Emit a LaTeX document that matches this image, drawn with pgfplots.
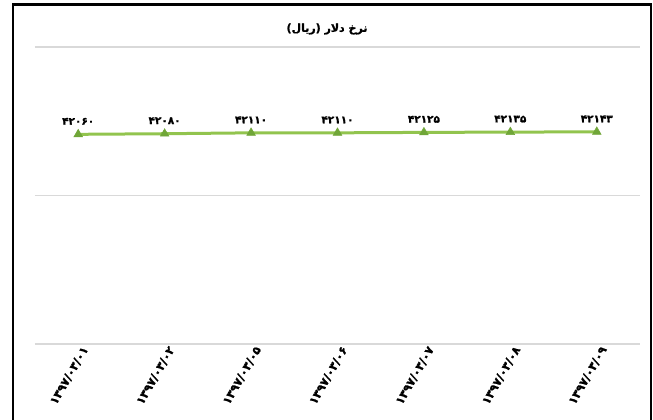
\documentclass[border=0pt]{standalone}
\usepackage{fontspec}
\setmainfont{DejaVu Sans}
\newfontfamily\arabicfont[Script=Arabic]{DejaVu Sans}
\newfontfamily\heavyfont[Script=Arabic, FakeBold=1.2]{DejaVu Sans Bold}
\TeXXeTstate=1
\usepackage{pgfplots}
\pgfplotsset{compat=1.18}
\definecolor{lineGreen}{RGB}{146,196,78}
\definecolor{markGreen}{RGB}{112,166,56}
\definecolor{gridGray}{RGB}{217,217,217}
\begin{document}
\begin{tikzpicture}
  \useasboundingbox (0pt,0pt) rectangle (653pt,-420pt);
  % outer frame
  \draw[line width=2.2pt] (13pt,-425pt) -- (13pt,-4.5pt) -- (651pt,-4.5pt) -- (651pt,-425pt);
  \node[font=\heavyfont\fontsize{11}{13}\selectfont] at (327pt,-29pt) {\beginR نرخ دلار (ریال)\endR};
  \begin{axis}[
      at={(35pt,-344pt)}, anchor=south west,
      scale only axis,
      width=605pt, height=297pt,
      xmin=-0.5, xmax=6.5,
      ymin=35000, ymax=45000,
      scaled y ticks=false,
      xtick={0,...,6},
      xticklabels={\beginL۱۳۹۷/۰۳/۰۱\endL,\beginL۱۳۹۷/۰۳/۰۲\endL,\beginL۱۳۹۷/۰۳/۰۵\endL,\beginL۱۳۹۷/۰۳/۰۶\endL,\beginL۱۳۹۷/۰۳/۰۷\endL,\beginL۱۳۹۷/۰۳/۰۸\endL,\beginL۱۳۹۷/۰۳/۰۹\endL},
      ytick={35000,40000,45000},
      yticklabels={},
      ymajorgrids,
      grid style={gridGray, line width=1.4pt},
      axis line style={draw=none},
      major tick length=0pt,
      x tick label style={font=\heavyfont\fontsize{11.5}{13}\selectfont, rotate=60, anchor=east, xshift=4pt, yshift=-8pt},
      clip=false,
    ]
    \addplot[lineGreen, line width=3pt, mark=triangle*, mark size=5pt,
             mark options={fill=markGreen, draw=markGreen, line width=0.5pt},
             nodes near coords, point meta=explicit symbolic,
             every node near coord/.append style={font=\heavyfont\fontsize{10.5}{12}\selectfont, black, yshift=6pt}]
      coordinates {
        (0,42060) [\beginL۴۲۰۶۰\endL]
        (1,42080) [\beginL۴۲۰۸۰\endL]
        (2,42110) [\beginL۴۲۱۱۰\endL]
        (3,42110) [\beginL۴۲۱۱۰\endL]
        (4,42125) [\beginL۴۲۱۲۵\endL]
        (5,42135) [\beginL۴۲۱۳۵\endL]
        (6,42143) [\beginL۴۲۱۴۳\endL]
      };
  \end{axis}
\end{tikzpicture}
\end{document}
